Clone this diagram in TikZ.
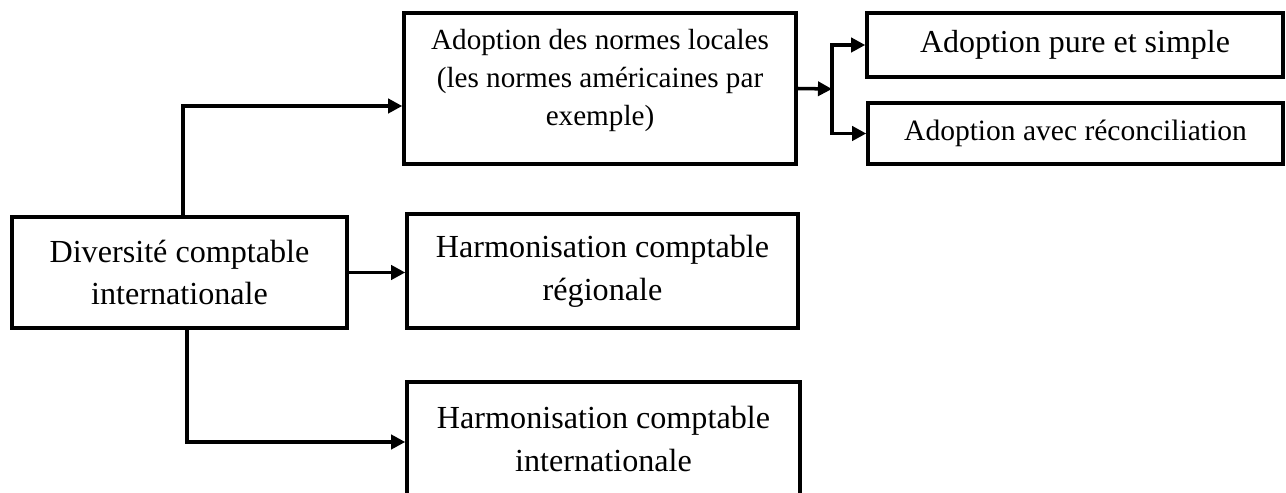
\documentclass[tikz,border=0pt]{standalone}
\usepackage{fontspec}
\setmainfont{Liberation Serif}
\usetikzlibrary{arrows.meta, positioning}

\tikzset{
    boite/.style={draw, line width=2pt, align=center, inner sep=0pt},
    fleche/.style={->, line width=2pt},
    grand/.style={font=\fontsize{18.3}{24.4}\selectfont},
    petit/.style={font=\fontsize{16.6}{21.6}\selectfont}
}

\begin{document}
\begin{tikzpicture}[x=0.02cm, y=-0.02cm, >={Triangle[length=8pt, width=8pt]}]
    \useasboundingbox (0,0) rectangle (1286,493);

    % boites
    \node[boite, grand, minimum width=6.7cm, minimum height=2.22cm] (div) at (179.5,272.5)
        {Diversité comptable\\internationale};
    \node[boite, petit, text depth=13pt, minimum width=7.84cm, minimum height=3.02cm] (adl) at (600,88.5)
        {Adoption des normes locales\\(les normes américaines par\\exemple)};
    \node[boite, grand, minimum width=7.82cm, minimum height=2.28cm] (reg) at (602.5,271)
        {Harmonisation comptable\\régionale};
    \node[boite, grand, minimum width=7.86cm, minimum height=2.28cm] (intl) at (603.5,439)
        {Harmonisation comptable\\internationale};
    \node[boite, font=\fontsize{18.2}{21}\selectfont, minimum width=8.32cm, minimum height=1.28cm] (pure) at (1075,45)
        {Adoption pure et simple};
    \node[boite, font=\fontsize{16.8}{21}\selectfont, minimum width=8.3cm, minimum height=1.22cm] (reco) at (1075.5,133.5)
        {Adoption avec réconciliation};

    \coordinate (split) at (832,89);

    % fleches
    \draw[fleche] ([xshift=0.07cm]div.north) |- ([yshift=-0.35cm]adl.west);
    \draw[fleche] (div.east) -- (div.east -| reg.west);
    \draw[fleche] ([xshift=0.15cm]div.south) |- ([yshift=-0.06cm]intl.west);
    \draw[fleche] (adl.east) -- (split);
    \draw[fleche] (split) |- (pure.west);
    \draw[fleche] (split) |- (reco.west);
\end{tikzpicture}
\end{document}
